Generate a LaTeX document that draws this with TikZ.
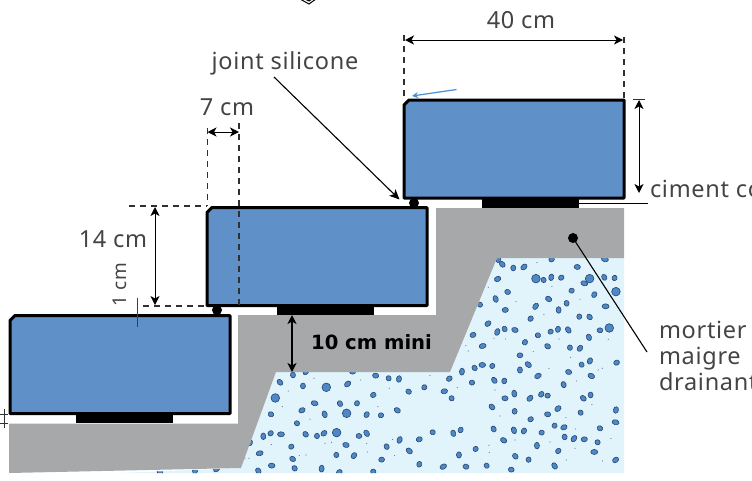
\documentclass[tikz,border=0pt]{standalone}
\usepackage{fontspec}
\setmainfont{Noto Sans}[LetterSpace=3]
\newfontfamily\heavyfont{DejaVu Sans}
\usetikzlibrary{arrows.meta}
\definecolor{slab}{HTML}{6090C8}
\definecolor{mortar}{HTML}{A7A8AA}
\definecolor{drain}{HTML}{E1F3FB}
\definecolor{ink}{HTML}{444446}
\definecolor{dashink}{HTML}{303032}
\definecolor{peb}{HTML}{4F88C6}
\definecolor{pebline}{HTML}{24456F}
\definecolor{note}{HTML}{4A90D0}
\tikzset{
 slabbox/.style={rectangle,minimum width=220pt,minimum height=98pt,inner sep=0pt,outer sep=0pt},
 slabline/.style={draw=black,line width=3pt,fill=slab,line join=round},
 padbox/.style={fill=black,minimum width=97pt,minimum height=9pt,inner sep=0pt,outer sep=0pt},
 blob/.style={circle,fill=black,minimum size=10pt,inner sep=0pt,outer sep=0pt},
 label/.style={text=ink,font=\fontsize{23.5}{26}\selectfont,inner sep=0pt,outer sep=0pt},
 dimline/.style={draw=black,line width=1pt,{Stealth[length=9pt,width=9pt,inset=2.5pt]}-{Stealth[length=9pt,width=9pt,inset=2.5pt]}},
 dashline/.style={draw=dashink,line width=1.1pt,dash pattern=on 6pt off 5pt},
 leader/.style={draw=black,line width=1.1pt},
 tick/.style={draw=dashink,line width=.8pt},
}
\newcommand{\slabshape}[1]{\draw[slabline] ([yshift=-5pt]#1.north west) -- ([xshift=5pt]#1.north west) -- (#1.north east) -- (#1.south east) -- (#1.south west) -- cycle;}
\newcommand{\pebbles}[1]{\foreach \px/\py [count=\k] in {#1}{
  \pgfmathsetmacro{\ang}{mod(\k*47,180)}
  \pgfmathsetmacro{\ra}{2.7+mod(\k*3,5)*0.2}
  \filldraw[fill=peb,draw=pebline,line width=.6pt,rotate around={\ang:(\px,\py)}] (\px,\py) ellipse [x radius=\ra pt,y radius=2.5pt];}}
\newcommand{\bigpebbles}[1]{\foreach \px/\py in {#1}{
  \filldraw[fill=peb,draw=pebline,line width=.6pt] (\px,\py) circle [radius=4.3pt];}}
\newcommand{\specks}[1]{\foreach \px/\py in {#1}{
  \fill[pebline!70!white] (\px,\py) circle [radius=.6pt];}}
\begin{document}
\begin{tikzpicture}[x=1pt,y=-1pt]
\useasboundingbox (0,0) rectangle (752,480);
\clip (0,0) rectangle (752,480);
\fill[white] (0,0) rectangle (752,480);
% ground
\fill[drain] (120,473) -- (241,468) -- (276,372) -- (450,372) -- (497,258) -- (624,258) -- (624,473) -- cycle;
\begin{scope}
\clip (120,473) -- (241,468) -- (276,372) -- (450,372) -- (497,258) -- (624,258) -- (624,473) -- cycle;
\begin{scope}[x=.3333pt,y=.3333pt,yscale=-1,shift={(1200,540)}]
\pebbles{307/253,340/264,372/261,532/261,431/300,454/292,484/293,553/310,613/292,644/294,293/297,323/336,287/357,583/344,515/332,446/357,500/370,407/379,316/390,240/374,476/390,392/416,617/379,569/411,538/410,264/431,600/451,505/450,474/448,452/455,345/450,314/447,292/456,219/465,414/466,567/472,375/487,248/498,443/499,510/503,540/505,360/526,385/554,360/570,277/558,247/555,224/564,186/575,148/596,216/608,283/601,313/603,414/588,506/576,545/554,570/543,650/548,574/588,491/614,73/622,133/634,26/635,343/641,424/643,443/647,550/655,572/645,390/655,315/655,155/655,295/238,455/238,615/238}
\bigpebbles{408/296,569/296,648/335,628/444}
\specks{411/248,456/320,348/365,432/404,540/358,625/478,282/475,317/477,477/477,205/513,198/497,400/515,512/532,447/566,595/570,607/565,90/587,172/623,530/603,285/630,265/322}
\end{scope}
\begin{scope}[x=.3333pt,y=.3333pt,yscale=-1,shift={(690,900)}]
\pebbles{150/247,219/258,353/252,437/227,476/235,507/237,430/285,254/310,330/311,381/310,216/331,123/343,284/343,410/344,453/346,502/331,189/225,228/215,368/215,201/370,100/409,122/400,153/403,227/403,261/408,282/400,387/408,410/400,60/428,184/440,348/435,470/440,509/420,568/418,608/397,670/400,692/390,89/460,188/477,319/465,372/467,455/479,538/453,687/465,737/447,125/497,194/505,275/506,328/517,430/515,85/513,568/493,640/500,708/500,770/497}
\bigpebbles{289/262,136/294,350/340,320/398}
\specks{175/273,157/320,240/358,392/240,252/235,478/265,444/320,285/430,305/427,124/434,410/430,412/456,208/467,228/465,45/475,57/475,494/467,488/418}
\end{scope}
\begin{scope}[x=.3333pt,y=.3333pt,yscale=-1,shift={(1410,1140)}]
\pebbles{66/81,134/94,264/86,233/103,332/98,438/90,182/118,437/127,71/147,254/137,282/142,390/145,132/151,162/153,215/158,101/181,284/171,312/176,343/178,383/187,201/197,265/213,373/216,136/229,176/239,437/240,124/269,254/258}
\specks{90/108,288/113,366/74,317/147,135/180,57/196,58/218,240/186,423/176,315/205,289/240,398/243}
\end{scope}
\begin{scope}[x=.3333pt,y=.3333pt,yscale=-1,shift={(0,840)}]
\pebbles{480/577,585/573,650/567}
\end{scope}
\end{scope}
\fill[mortar] (9,423.5) -- (238,423.5) -- (238,315) -- (436,315) -- (436,208) -- (624,208) -- (624,258) -- (497,258) -- (450,372) -- (276,372) -- (241,468) -- (9,473) -- cycle;
% pads and joints
\node[padbox] (p1) at (124,418.5) {};
\node[padbox] (p2) at (325,310.5) {};
\node[padbox] (p3) at (530,203) {};
\node[blob] (j1) at (217,310) {};
\node[blob] (j2) at (414,203) {};
% slabs
\node[slabbox] (b1) at (120,364.5) {};
\node[slabbox] (b2) at (317,256.5) {};
\node[slabbox] (b3) at (514,149) {};
\slabshape{b1}
\slabshape{b2}
\slabshape{b3}
% dimension helper points
\coordinate (t40a) at (405,40); \coordinate (t40b) at (623,40);
\coordinate (v40a) at (404,35); \coordinate (v40c) at (404,98);
\coordinate (v40b) at (624,37); \coordinate (v40d) at (624,99);
\coordinate (t7a) at (207.5,132); \coordinate (t7b) at (239,132);
\coordinate (v7a) at (207.5,128); \coordinate (v7c) at (207.5,206);
\coordinate (v7b) at (239,123); \coordinate (v7d) at (239,306);
\coordinate (h14a) at (129,206); \coordinate (h14b) at (207,206);
\coordinate (h14c) at (143,306); \coordinate (h14d) at (207,306);
\coordinate (d14a) at (155,207); \coordinate (d14b) at (155,305);
\coordinate (d10a) at (292,315); \coordinate (d10b) at (292,372);
\coordinate (dcma) at (639,100); \coordinate (dcmb) at (639,193);
\coordinate (capa) at (633,99); \coordinate (capb) at (645,99);
\coordinate (cima) at (578,203.5); \coordinate (cimb) at (648,203.5);
\coordinate (lead1) at (274,77); \coordinate (lead1e) at (399.5,199.5);
\coordinate (lead2) at (647,352);
\coordinate (bla) at (456.5,89.5); \coordinate (blb) at (412,96);
% dashed guides
\draw[dashline] (v40a) -- (v40c);
\draw[dashline] (v40b) -- (v40d);
\draw[dashline] (v7a) -- (v7c);
\draw[dashline] (v7b) -- (v7d);
\draw[dashline] (h14a) -- (h14b);
\draw[dashline] (h14c) -- (h14d);
% dimension arrows
\draw[dimline] (t40a) -- (t40b);
\draw[dimline] (t7a) -- (t7b);
\draw[dimline] (d14a) -- (d14b);
\draw[dimline,line width=1.3pt] (d10a) -- (d10b);
\draw[dimline] (dcma) -- (dcmb);
\draw[tick] (capa) -- (capb);
\draw[leader] (cima) -- (cimb);
% leaders
\draw[leader,-{Stealth[length=10pt,width=9pt,inset=2.5pt]}] (lead1) -- (lead1e);
\node[blob] (dot) at (573,238) {};
\draw[leader] (dot.center) -- (lead2);
\draw[note,line width=1.2pt,-{Stealth[length=6pt,width=6pt]}] (bla) -- (blb);
% ticks
\coordinate (tka) at (137,298); \coordinate (tkb) at (137,327);
\coordinate (tkc) at (4,409); \coordinate (tkd) at (4,428);
\coordinate (tke) at (0,414); \coordinate (tkf) at (8,414);
\coordinate (tkg) at (0,423); \coordinate (tkh) at (8,423);
\draw[tick,draw=pebline] (tka) -- (tkb);
\draw[tick] (tkc) -- (tkd);
\draw[tick] (tke) -- (tkf);
\draw[tick] (tkg) -- (tkh);
% clipped symbol at the top
\draw[tick,draw=black,line width=1pt] (300,-1) -- (309,4) -- (316,-1) (305,-1) -- (309,1) -- (312,-1);
% labels
\node[label] (l40) at (521,20) {40 cm};
\node[label] (l7) at (227,107) {7 cm};
\node[label] (l14) at (113,239) {14 cm};
\node[label,rotate=90,font=\fontsize{19}{20}\selectfont] (l1) at (119.5,285) {1 cm};
\node[label] (ljs) at (285,63) {joint silicone};
\node[label,anchor=base west] (lcc) at (650,197) {ciment co};
\node[label,anchor=base west] (lm1) at (659,338) {mortier};
\node[label,anchor=base west] (lm2) at (659,364) {maigre};
\node[label,anchor=base west] (lm3) at (659,390) {drainant};
\node[text=black,font=\fontsize{19.6}{24}\selectfont\heavyfont\bfseries,inner sep=0pt] (l10) at (371.5,342) {10 cm mini};
\end{tikzpicture}
\end{document}
